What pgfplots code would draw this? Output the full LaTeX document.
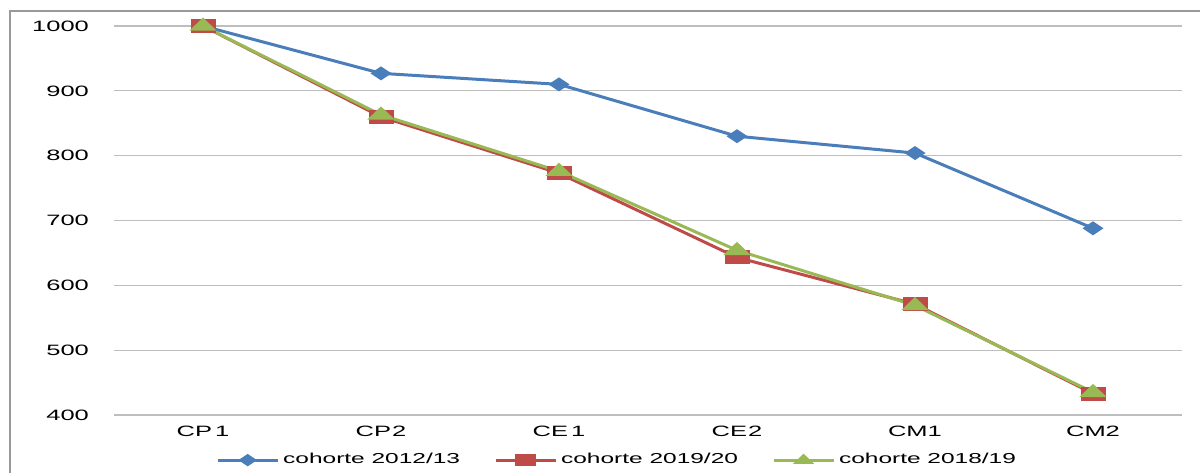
\documentclass[border=0pt]{standalone}
\usepackage{pgfplots}
\pgfplotsset{compat=1.18}
\usepackage{fontspec}
\setmainfont{Liberation Sans}[FakeStretch=1.7]
\definecolor{cblue}{HTML}{4A7EBB}
\definecolor{cred}{HTML}{BE4B48}
\definecolor{cgreen}{HTML}{98B954}
\definecolor{cgrid}{HTML}{BEBEBE}
\begin{document}
\begin{tikzpicture}
\useasboundingbox (0,0) rectangle (600pt,236pt);
\draw[gray!80, line width=0.6pt] (5pt,-2pt) -- (5pt,230.5pt) -- (602pt,230.5pt);
\begin{axis}[
  scale only axis, width=534pt, height=194.5pt,
  anchor=south west, at={(57pt,28.5pt)},
  xmin=-0.5, xmax=5.5, ymin=400, ymax=1000,
  xtick={0,1,2,3,4,5},
  xticklabels={CP\kern1.5pt1,CP\kern0.5pt2,CE\kern1.5pt1,CE\kern0.5pt2,CM1,CM2},
  ytick={400,500,...,1000},
  ymajorgrids, grid style={cgrid, line width=0.6pt},
  axis line style={draw=none},
  major tick length=0pt,
  tick label style={font=\fontsize{7.5}{9}\selectfont},
  yticklabel style={xshift=-9pt},
  xticklabel style={yshift=-2pt},
  /pgf/number format/assume math mode=true,
  /pgf/number format/1000 sep={},
  clip=false,
  legend style={at={(0.472,-0.116)}, anchor=center, draw=none, fill=none,
    legend columns=-1, font=\fontsize{7.2}{9}\selectfont,
    /tikz/every even column/.append style={column sep=15pt}},
  legend cell align=left,
  legend image code/.code={%
    \draw[mark repeat=2,mark phase=2,#1,mark size=2.2pt] plot coordinates {(0pt,0pt) (15pt,0pt) (30pt,0pt)};},
]
\addplot[cblue, line width=1.5pt, mark=diamond*, mark size=2.6pt,
  mark options={xscale=2.0, yscale=1.0, solid}]
  coordinates {(0,1000) (1,927) (2,910) (3,830) (4,804) (5,688)};
\addlegendentry{cohorte 2012/13}
\addplot[cred, line width=1.5pt, mark=square*, mark size=2.75pt,
  mark options={xscale=2.0}]
  coordinates {(0,1000) (1,860) (2,773) (3,643) (4,571) (5,433)};
\addlegendentry{cohorte 2019/20}
\addplot[cgreen, line width=1.5pt, mark=triangle*, mark size=3.2pt,
  mark options={xscale=1.8}]
  coordinates {(0,1000) (1,863) (2,776) (3,654) (4,569) (5,435)};
\addlegendentry{cohorte 2018/19}
\end{axis}
\end{tikzpicture}
\end{document}
